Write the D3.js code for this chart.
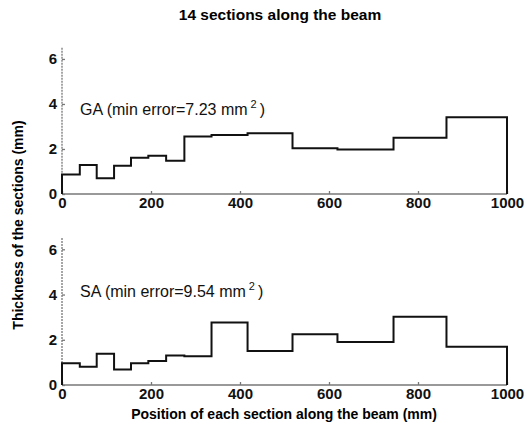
<!DOCTYPE html>
<html>
<head>
<meta charset="utf-8">
<script src="https://cdn.jsdelivr.net/npm/d3@7"></script>
<style>
  body { margin: 0; background: #fff; }
  svg { font-family: "Liberation Sans", Arial, sans-serif; }
  .axis path, .axis line { stroke: #777; stroke-width: 1.3; }
  .axis text { font-size: 15px; font-weight: bold; fill: #111; }
</style>
</head>
<body>
<svg id="chart" width="527" height="427"></svg>
<script>
// section boundaries along the beam (mm)
const edges = [0, 40, 78, 117, 155, 194, 234, 275, 336, 417, 518, 619, 745, 864, 1000];
// thickness per section (mm)
const gaThick = [0.87, 1.29, 0.70, 1.26, 1.61, 1.70, 1.48, 2.55, 2.62, 2.70, 2.03, 1.98, 2.50, 3.41];
const saThick = [0.96, 0.81, 1.38, 0.69, 0.96, 1.06, 1.30, 1.27, 2.76, 1.50, 2.24, 1.90, 3.02, 1.69];
const xTicks = [0, 200, 400, 600, 800, 1000];
const yTicks = [0, 2, 4, 6];

const svg = d3.select("#chart");

const x = d3.scaleLinear().domain([0, 1000]).range([62, 507]);

const panels = [
  { data: gaThick, top: 47.7, bottom: 194, name: "GA", err: "7.23", labelY: 115 },
  { data: saThick, top: 238, bottom: 385, name: "SA", err: "9.54", labelY: 297 }
];

panels.forEach(p => {
  const y = d3.scaleLinear().domain([0, 6.5]).range([p.bottom, p.top]);
  const g = svg.append("g");

  g.append("g")
    .classed("axis", true)
    .attr("transform", `translate(0,${p.bottom})`)
    .call(d3.axisBottom(x).tickValues(xTicks).tickSize(-3).tickPadding(3).tickFormat(d3.format("d")))
    .call(a => a.select(".domain").attr("d", `M${x(0)},0H${x(1000)}`));

  g.append("g")
    .classed("axis", true)
    .attr("transform", `translate(${x(0)},0)`)
    .call(d3.axisLeft(y).tickValues(yTicks).tickSize(-3).tickPadding(5).tickFormat(d3.format("d")))
    .call(a => a.select(".domain").attr("d", `M0,${p.top}V${p.bottom}`).attr("stroke-dasharray", "2,1"));

  // step line
  const pts = [[0, 0]];
  p.data.forEach((v, i) => {
    pts.push([edges[i], v]);
    pts.push([edges[i + 1], v]);
  });
  pts.push([1000, 0]);
  g.append("path")
    .datum(pts)
    .attr("fill", "none")
    .attr("stroke", "#111")
    .attr("stroke-width", 2)
    .attr("d", d3.line().x(d => x(d[0])).y(d => y(d[1])));

  const t = g.append("text")
    .attr("x", 80)
    .attr("y", p.labelY)
    .style("font-size", "16px")
    .style("fill", "#111");
  t.append("tspan").text(`${p.name} (min error=${p.err} mm`);
  t.append("tspan").attr("dy", -7).style("font-size", "11px").attr("dx", 3).text("2");
  t.append("tspan").attr("dy", 7).attr("dx", 3).text(")");
});

svg.append("text")
  .attr("x", 280)
  .attr("y", 20)
  .attr("text-anchor", "middle")
  .style("font-size", "15.5px")
  .style("font-weight", "bold")
  .text("14 sections along the beam");

svg.append("text")
  .attr("x", 284)
  .attr("y", 419)
  .attr("text-anchor", "middle")
  .style("font-size", "14px")
  .style("font-weight", "bold")
  .text("Position of each section along the beam (mm)");

svg.append("text")
  .attr("transform", "translate(23,225) rotate(-90)")
  .attr("text-anchor", "middle")
  .style("font-size", "14px")
  .style("font-weight", "bold")
  .text("Thickness of the sections (mm)");
</script>
</body>
</html>
